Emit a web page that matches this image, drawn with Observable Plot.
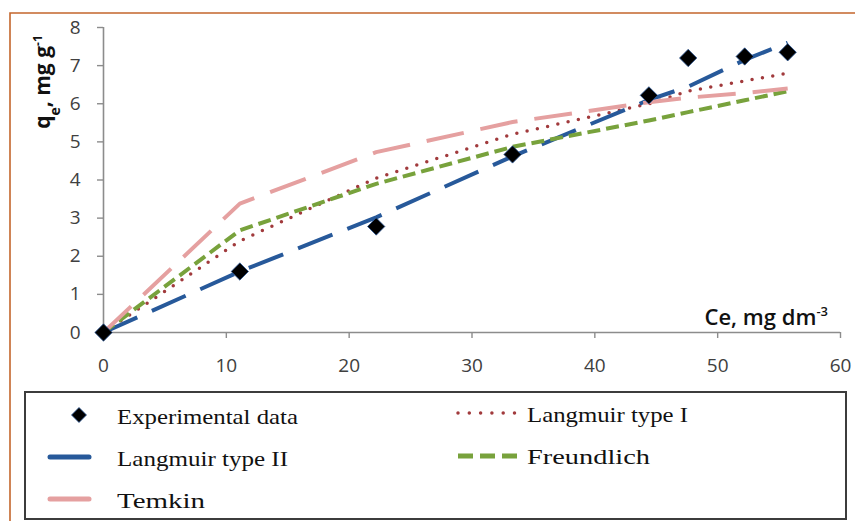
<!DOCTYPE html>
<html>
<head>
<meta charset="utf-8">
<script src="https://cdn.jsdelivr.net/npm/d3@7"></script>
<script src="https://cdn.jsdelivr.net/npm/@observablehq/plot@0.6"></script>
<style>
  html, body { margin: 0; padding: 0; background: #fff; }
  #wrap { position: relative; width: 855px; height: 521px; overflow: hidden; background: #fff; }
  #plot { position: absolute; left: 0; top: 0; }
  #overlay { position: absolute; left: 0; top: 0; pointer-events: none; }
</style>
</head>
<body>
<div id="wrap"><div id="plot"></div></div>
<script>
// ---- data ----
const ce           = [0, 11.1, 22.2, 33.3, 44.4, 47.6, 52.2, 55.7];
const experimental = [0, 1.6, 2.78, 4.67, 6.22, 7.2, 7.24, 7.35];
const langmuirI    = [0, 2.4, 4.05, 5.2, 6.0, 6.33, 6.6, 6.8];
const langmuirII   = [0, 1.6, 3.02, 4.62, 6.1, 6.45, 7.15, 7.6];
const freundlich   = [0, 2.68, 3.9, 4.87, 5.56, 5.78, 6.09, 6.33];
const temkin       = [0, 3.38, 4.73, 5.52, 6.04, 6.16, 6.28, 6.4];
const xTicks = [0, 10, 20, 30, 40, 50, 60];
const yTicks = [0, 1, 2, 3, 4, 5, 6, 7, 8];
const seriesNames = ["Experimental data", "Langmuir type I", "Langmuir type II", "Freundlich", "Temkin"];

const rows = ce.map((c, i) => ({
  ce: c, experimental: experimental[i], langmuirI: langmuirI[i],
  langmuirII: langmuirII[i], freundlich: freundlich[i], temkin: temkin[i]
}));

const colors = { lI: "#a13a3c", lII: "#27599a", fr: "#78a23c", tk: "#e5a0a0" };
const tickFont = "'Open Sans', sans-serif";

const chart = Plot.plot({
  width: 855, height: 390,
  marginLeft: 103, marginRight: 15, marginTop: 27, marginBottom: 58,
  x: { domain: [0, 60] },
  y: { domain: [0, 8] },
  style: { fontFamily: tickFont, background: "transparent", overflow: "visible" },
  marks: [
    // tick lines only (labels drawn with text marks below)
    Plot.axisX({ ticks: xTicks, tickSize: 6, stroke: "#8c8c8c", strokeWidth: 1.4, tickFormat: () => "", label: null }),
    Plot.axisY({ ticks: yTicks, tickSize: 6, stroke: "#8c8c8c", strokeWidth: 1.4, tickFormat: () => "", label: null }),
    Plot.text(xTicks, { x: d => d, y: 0, dy: 33, text: d => String(d), fontSize: 19, fill: "#404040", textAnchor: "middle", fontFamily: tickFont }),
    Plot.text(yTicks, { x: 0, y: d => d, dx: -23, text: d => String(d), fontSize: 19, fill: "#404040", textAnchor: "end", fontFamily: tickFont }),
    Plot.ruleY([0], { stroke: "#8c8c8c", strokeWidth: 1.6 }),
    Plot.ruleX([0], { stroke: "#8c8c8c", strokeWidth: 1.6 }),
    Plot.line(rows, { x: "ce", y: "langmuirI", stroke: colors.lI, strokeWidth: 3.5, strokeDasharray: "0,10.5", strokeLinecap: "round" }),
    Plot.line(rows, { x: "ce", y: "langmuirII", stroke: colors.lII, strokeWidth: 4, strokeDasharray: "37,16", strokeLinecap: "butt" }),
    Plot.line(rows, { x: "ce", y: "freundlich", stroke: colors.fr, strokeWidth: 4, strokeDasharray: "13,6", strokeLinecap: "butt" }),
    Plot.line(rows, { x: "ce", y: "temkin", stroke: colors.tk, strokeWidth: 4, strokeDasharray: "38,17", strokeLinecap: "butt" }),
    Plot.dot(rows, { x: "ce", y: "experimental", symbol: "diamond2", r: 7.8, fill: "#000", stroke: "#2b5797", strokeWidth: 0.8 })
  ]
});
document.getElementById("plot").appendChild(chart);

const svg = d3.select(chart);

// y-axis title with subscript / superscript
const yt = svg.append("text")
  .attr("transform", "translate(50,82) rotate(-90)")
  .attr("text-anchor", "middle")
  .attr("fill", "#111")
  .style("font-family", "'Open Sans', sans-serif")
  .style("font-weight", "700")
  .style("font-size", "21px");
yt.append("tspan").text("q");
yt.append("tspan").attr("baseline-shift", "sub").style("font-size", "14px").text("e");
yt.append("tspan").text(", mg g");
yt.append("tspan").attr("baseline-shift", "super").style("font-size", "12px").text("-1");

// x-axis title
const xt = svg.append("text")
  .attr("x", 828).attr("y", 325)
  .attr("text-anchor", "end")
  .attr("fill", "#111")
  .style("font-family", "'Open Sans', sans-serif")
  .style("font-weight", "600")
  .style("font-size", "22px");
xt.append("tspan").text("Ce, mg dm");
xt.append("tspan").attr("baseline-shift", "super").style("font-size", "13px").text("-3");

// ---- overlay: frame and legend ----
const ov = d3.select("#wrap").append("svg").attr("id", "overlay").attr("width", 855).attr("height", 521);
ov.append("path").attr("d", "M10,521 V13 H855").attr("fill", "none").attr("stroke", "#c4662c").attr("stroke-width", 1.6);
ov.append("rect").attr("x", 25).attr("y", 392).attr("width", 821).attr("height", 127)
  .attr("fill", "none").attr("stroke", "#3c3c3c").attr("stroke-width", 2);

const legendItems = [
  { name: seriesNames[0], kind: "diamond", sx: [79], y: 415, tx: 117, ty: 424, tw: 181 },
  { name: seriesNames[1], kind: "line", sx: [458, 517], y: 413, color: colors.lI, dash: "0,11.3", cap: "round", w: 3.5, tx: 527, ty: 422, tw: 161 },
  { name: seriesNames[2], kind: "line", sx: [50, 89], y: 457, color: colors.lII, dash: null, cap: "round", w: 5, tx: 117, ty: 466, tw: 171 },
  { name: seriesNames[3], kind: "line", sx: [458, 517], y: 456, color: colors.fr, dash: "15,7", cap: "butt", w: 5, tx: 527, ty: 464, tw: 123 },
  { name: seriesNames[4], kind: "line", sx: [50, 89], y: 499, color: colors.tk, dash: null, cap: "round", w: 5, tx: 117, ty: 508, tw: 88 }
];
for (const it of legendItems) {
  if (it.kind === "diamond") {
    const x = it.sx[0], y = it.y, h = 7.5;
    ov.append("path").attr("d", `M${x},${y - h}L${x + h},${y}L${x},${y + h}L${x - h},${y}Z`)
      .attr("fill", "#000").attr("stroke", "#2b5797").attr("stroke-width", 0.8);
  } else {
    const l = ov.append("line").attr("x1", it.sx[0]).attr("x2", it.sx[1]).attr("y1", it.y).attr("y2", it.y)
      .attr("stroke", it.color).attr("stroke-width", it.w).attr("stroke-linecap", it.cap);
    if (it.dash) l.attr("stroke-dasharray", it.dash);
  }
  ov.append("text").attr("x", it.tx).attr("y", it.ty)
    .attr("textLength", it.tw).attr("lengthAdjust", "spacingAndGlyphs")
    .attr("fill", "#111")
    .style("font-family", "'Liberation Serif', 'Times New Roman', serif")
    .style("font-size", "21px")
    .text(it.name);
}
</script>
</body>
</html>
